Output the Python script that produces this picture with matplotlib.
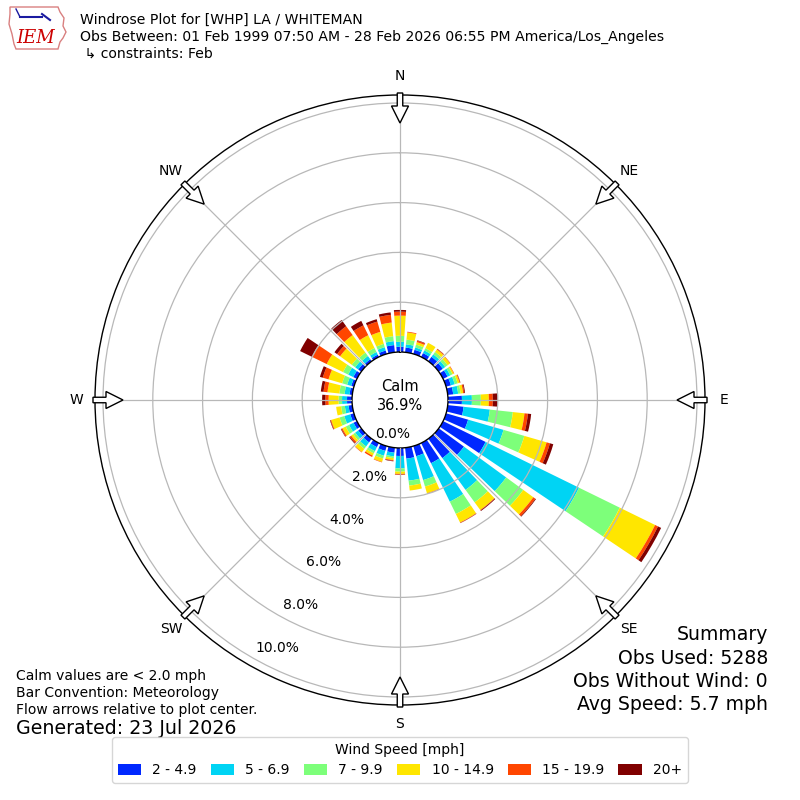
import numpy as np
import matplotlib
matplotlib.use("Agg")
import matplotlib.pyplot as plt
from matplotlib.patches import Patch, FancyArrow, Polygon

# --- data (percent of obs per 10 deg sector) ---
directions = np.arange(0, 360, 10)
speed_labels = ["2 - 4.9", "5 - 6.9", "7 - 9.9", "10 - 14.9", "15 - 19.9", "20+"]
speed_colors = ["#0028ff", "#00d4f4", "#7dff7a", "#ffe600", "#ff4600", "#800000"]

pct_2_5 = [0.21, 0.19, 0.17, 0.17, 0.22, 0.20, 0.20, 0.20, 0.22, 0.56, 0.64, 0.92,
           1.90, 1.25, 0.96, 0.90, 0.42, 0.44, 0.32, 0.20, 0.20, 0.18, 0.18, 0.15,
           0.15, 0.15, 0.15, 0.20, 0.11, 0.11, 0.16, 0.15, 0.10, 0.10, 0.14, 0.29]
pct_5_7 = [0.20, 0.13, 0.10, 0.12, 0.12, 0.12, 0.12, 0.16, 0.20, 0.40, 1.06, 1.48,
           4.18, 2.10, 1.58, 1.72, 1.00, 0.89, 0.50, 0.15, 0.20, 0.18, 0.20, 0.15,
           0.20, 0.25, 0.15, 0.20, 0.20, 0.17, 0.23, 0.15, 0.16, 0.12, 0.14, 0.16]
pct_7_10 = [0.24, 0.19, 0.12, 0.10, 0.12, 0.12, 0.10, 0.12, 0.10, 0.36, 0.93, 0.87,
            1.82, 0.85, 0.62, 0.55, 0.27, 0.20, 0.13, 0.07, 0.12, 0.10, 0.12, 0.10,
            0.15, 0.20, 0.15, 0.14, 0.21, 0.21, 0.23, 0.17, 0.17, 0.18, 0.14, 0.20]
pct_10_15 = [0.81, 0.29, 0.10, 0.24, 0.12, 0.12, 0.06, 0.08, 0.10, 0.32, 0.47, 0.93,
             1.58, 0.50, 0.38, 0.38, 0.28, 0.20, 0.09, 0.08, 0.14, 0.10, 0.16, 0.10,
             0.15, 0.35, 0.20, 0.40, 0.48, 0.57, 0.73, 0.58, 0.87, 0.57, 0.50, 0.55]
pct_15_20 = [0.16, 0.03, 0.06, 0.00, 0.03, 0.02, 0.02, 0.03, 0.05, 0.16, 0.14, 0.14,
             0.13, 0.10, 0.02, 0.02, 0.02, 0.00, 0.03, 0.03, 0.02, 0.06, 0.02, 0.07,
             0.05, 0.03, 0.00, 0.13, 0.16, 0.24, 0.67, 0.15, 0.44, 0.44, 0.43, 0.31]
pct_20_up = [0.07, 0.00, 0.02, 0.00, 0.01, 0.00, 0.00, 0.01, 0.03, 0.20, 0.13, 0.14,
             0.14, 0.03, 0.03, 0.01, 0.00, 0.00, 0.01, 0.02, 0.00, 0.00, 0.00, 0.03,
             0.02, 0.02, 0.00, 0.13, 0.11, 0.12, 0.52, 0.13, 0.31, 0.20, 0.10, 0.10]

calm_pct = 36.9
ring_values = [0, 2, 4, 6, 8, 10]
compass = ["N", "NE", "E", "SE", "S", "SW", "W", "NW"]
summary = ["Summary", "Obs Used: 5288", "Obs Without Wind: 0", "Avg Speed: 5.7 mph"]

# --- geometry (pixels on an 800x800 canvas) ---
W = 800
cx, cy = 400, 400
r_calm = 48      # radius of 0 %
r_out = 305      # outer circle
px_per_pct = 24.9
rmax = (r_out - r_calm) / px_per_pct

fig = plt.figure(figsize=(8, 8), dpi=100)
ax = fig.add_axes([(cx - r_out) / W, (cy - r_out) / W, 2 * r_out / W, 2 * r_out / W],
                  projection="polar")
ax.set_theta_zero_location("N")
ax.set_theta_direction(-1)
ax.set_rorigin(-r_calm / px_per_pct)
ax.set_ylim(0, rmax)

theta = np.deg2rad(directions)
bottom = np.zeros(len(directions))
for vals, col in zip([pct_2_5, pct_5_7, pct_7_10, pct_10_15, pct_15_20, pct_20_up],
                     speed_colors):
    vals = np.array(vals)
    ax.bar(theta, vals, width=np.deg2rad(7.8), bottom=bottom, color=col,
           linewidth=0, zorder=2)
    bottom += vals

ax.set_yticks(ring_values[1:])
ax.set_yticklabels([])
ax.set_xticks(np.deg2rad(np.arange(0, 360, 45)))
ax.set_xticklabels([])
ax.grid(True, color="#b8b8b8", linewidth=0.9)
ax.set_axisbelow(False)
for sp in ax.spines.values():
    sp.set_color("black")
    sp.set_linewidth(1.0)

# compass labels
for i, lab in enumerate(compass):
    ax.text(np.deg2rad(i * 45), (324 - r_calm) / px_per_pct, lab, ha="center",
            va="center", fontsize=10, clip_on=False)

# calm in the middle
ax.text(0.5, 0.5 + 4 / (2 * r_out), "Calm\n%.1f%%" % calm_pct, transform=ax.transAxes,
        ha="center", va="center", fontsize=10.5, linespacing=1.35)

# ring labels run down-left from the centre
for k, v in enumerate(ring_values):
    x = 393 - 11.6 * v
    y = 434 + 21.4 * v
    fig.text(x / W, 1 - y / W, "%.1f%%" % v, ha="center", va="center", fontsize=10)

# flow arrows on the outer circle
over = fig.add_axes([0, 0, 1, 1], zorder=5)
over.set_xlim(0, W)
over.set_ylim(W, 0)
over.axis("off")
over.patch.set_alpha(0)
for i in range(8):
    b = np.deg2rad(i * 45)
    x0 = cx + 307 * np.sin(b)
    y0 = cy - 307 * np.cos(b)
    over.add_patch(FancyArrow(x0, y0, -30 * np.sin(b), 30 * np.cos(b), width=5.5,
                              head_width=17, head_length=17, length_includes_head=True,
                              fc="white", ec="black", lw=1.0))

# header
fig.text(80 / W, 1 - 20 / W, "Windrose Plot for [WHP] LA / WHITEMAN", fontsize=10.1,
         va="center")
fig.text(80 / W, 1 - 37 / W,
         "Obs Between: 01 Feb 1999 07:50 AM - 28 Feb 2026 06:55 PM America/Los_Angeles",
         fontsize=10.1, va="center")
fig.text(80 / W, 1 - 54 / W, " \u21b3 constraints: Feb", fontsize=10.1, va="center")

# logo
logo = fig.add_axes([6 / W, 1 - 52 / W, 62 / W, 48 / W])
logo.set_xlim(0, 62)
logo.set_ylim(48, 0)
logo.axis("off")
iowa = [(4, 3), (52, 3), (54, 8), (58, 14), (57, 22), (60, 28), (57, 34), (54, 38),
        (52, 45), (10, 45), (8, 40), (6, 30), (3, 20), (4, 10)]
logo.add_patch(Polygon(iowa, closed=True, fill=False, ec="#d98080", lw=1))
logo.plot([14, 36], [13, 13], color="#1a1aa0", lw=1.5)
logo.plot([36, 44], [10, 16], color="#1a1aa0", lw=1.5)
logo.plot([10, 14], [5, 13], color="#1a1aa0", lw=1)
logo.text(30, 34, "IEM", color="#cc0000", fontsize=13, style="italic",
          family="DejaVu Serif", ha="center", va="center")

# footer notes
fig.text(16 / W, 1 - 676 / W, "Calm values are < 2.0 mph", fontsize=10, va="center")
fig.text(16 / W, 1 - 693 / W, "Bar Convention: Meteorology", fontsize=10, va="center")
fig.text(16 / W, 1 - 710 / W, "Flow arrows relative to plot center.", fontsize=10,
         va="center")
fig.text(16 / W, 1 - 729 / W, "Generated: 23 Jul 2026", fontsize=13.7, va="center")

for k, line in enumerate(summary):
    fig.text(768 / W, 1 - (635 + 23.3 * k) / W, line, fontsize=13.6, ha="right",
             va="center")

handles = [Patch(facecolor=c, edgecolor="none") for c in speed_colors]
leg = fig.legend(handles, speed_labels, loc="lower center", ncol=6,
                 bbox_to_anchor=(0.5, 10 / W), title="Wind Speed [mph]", fontsize=10,
                 title_fontsize=10, frameon=True, handlelength=1.7, handleheight=0.8,
                 columnspacing=1.0)
leg.get_frame().set_edgecolor("#cccccc")

fig.savefig("out.png", dpi=100)
